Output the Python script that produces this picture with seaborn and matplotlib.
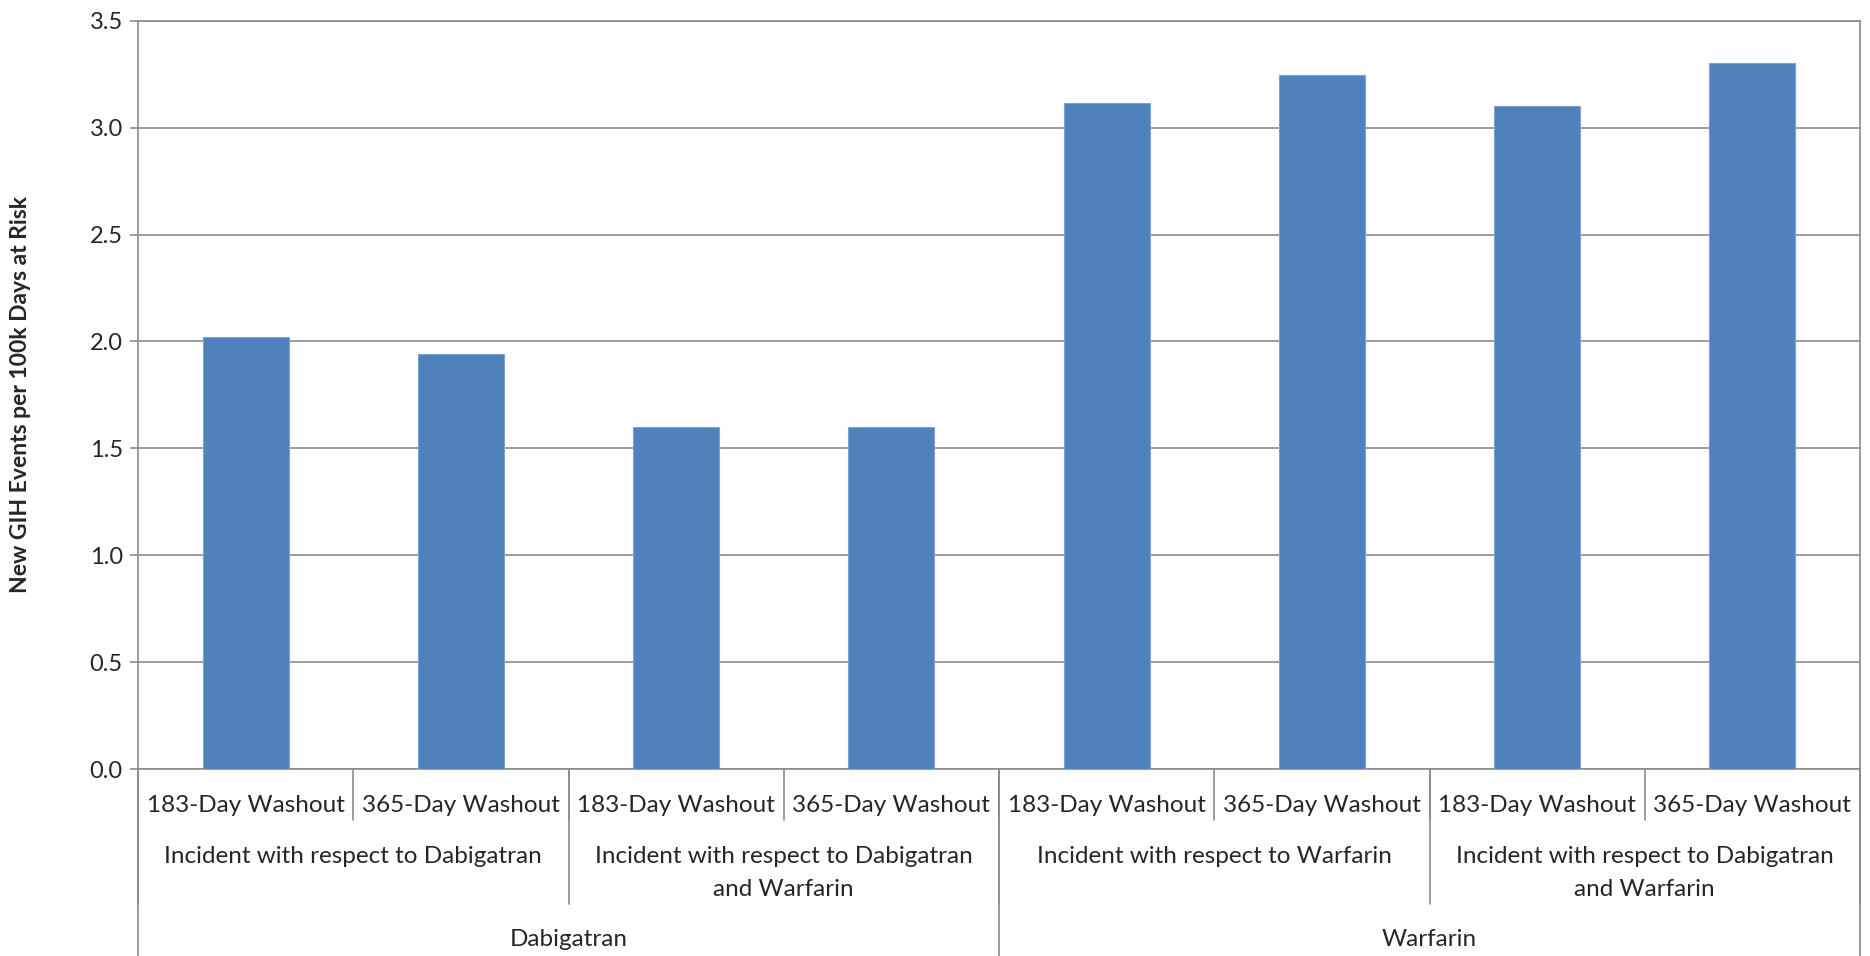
import matplotlib
matplotlib.use("Agg")
import matplotlib.pyplot as plt
import matplotlib.transforms as mtransforms
import pandas as pd
import seaborn as sns

# data
drugs = ["Dabigatran"] * 4 + ["Warfarin"] * 4
cohorts = (["Incident with respect to Dabigatran"] * 2
           + ["Incident with respect to Dabigatran\nand Warfarin"] * 2
           + ["Incident with respect to Warfarin"] * 2
           + ["Incident with respect to Dabigatran\nand Warfarin"] * 2)
washouts = ["183-Day Washout", "365-Day Washout"] * 4
rates = [2.02, 1.94, 1.60, 1.60, 3.115, 3.245, 3.10, 3.30]

df = pd.DataFrame({"Drug": drugs, "Cohort": cohorts, "Washout": washouts, "Rate": rates})
df["key"] = [str(i) for i in range(len(df))]

sns.set_style("white")
plt.rcParams["font.family"] = ["Lato", "DejaVu Sans"]
FS = 17.5

W, H = 1870, 956
fig = plt.figure(figsize=(W / 100, H / 100), dpi=100)
left, right, top, bottom = 138, 1860, 20.7, 769
ax = fig.add_axes([left / W, 1 - bottom / H, (right - left) / W, (bottom - top) / H])

sns.barplot(data=df, x="key", y="Rate", order=list(df["key"]), color="#4F81BD",
            saturation=1, width=0.4, edgecolor="#7FA3D0", linewidth=0.8, ax=ax, zorder=3)

ax.set_ylim(0, 3.5)
ax.set_yticks([0, 0.5, 1.0, 1.5, 2.0, 2.5, 3.0, 3.5])
ax.set_yticklabels(["0.0", "0.5", "1.0", "1.5", "2.0", "2.5", "3.0", "3.5"], fontsize=17)
ax.set_xlim(-0.5, len(df) - 0.5)
ax.set_xticks([])
ax.set_xlabel("")
ax.set_ylabel("")
ax.yaxis.grid(True, color="#8c8c8c", linewidth=1.2, zorder=0)
ax.tick_params(axis="y", length=6, width=1.2, color="#8c8c8c", direction="out", left=True, pad=5)
for side in ["left", "right", "top", "bottom"]:
    ax.spines[side].set_visible(True)
    ax.spines[side].set_color("#8c8c8c")
    ax.spines[side].set_linewidth(1.2)

fig.text(21 / W, 1 - (top + bottom) / 2 / H, "New GIH Events per 100k Days at Risk",
         rotation=90, ha="center", va="center", fontsize=16.5, fontweight="bold")

# hierarchical category axis below the plot
tr = mtransforms.blended_transform_factory(ax.transData, fig.transFigure)
def fy(px):
    return 1 - px / H

line_kw = dict(color="#8c8c8c", linewidth=1.2, transform=tr, clip_on=False)
n = len(df)

# level 1: washout
for i, lab in enumerate(washouts):
    ax.text(i, fy(805), lab, ha="center", va="center", fontsize=FS, transform=tr)
for b in range(n + 1):
    ax.plot([b - 0.5, b - 0.5], [fy(bottom), fy(820)], **line_kw)

# level 2: cohort
for g in range(0, n, 2):
    ax.text(g + 0.5, fy(846), cohorts[g], ha="center", va="top", fontsize=FS,
            linespacing=1.7, transform=tr)
for b in range(0, n + 1, 2):
    ax.plot([b - 0.5, b - 0.5], [fy(bottom), fy(904)], **line_kw)

# level 3: drug
for g in range(0, n, 4):
    ax.text(g + 1.5, fy(940), drugs[g], ha="center", va="center", fontsize=FS, transform=tr)
for b in range(0, n + 1, 4):
    ax.plot([b - 0.5, b - 0.5], [fy(bottom), fy(H)], **line_kw)

fig.savefig("out.png", dpi=100, facecolor="white")
